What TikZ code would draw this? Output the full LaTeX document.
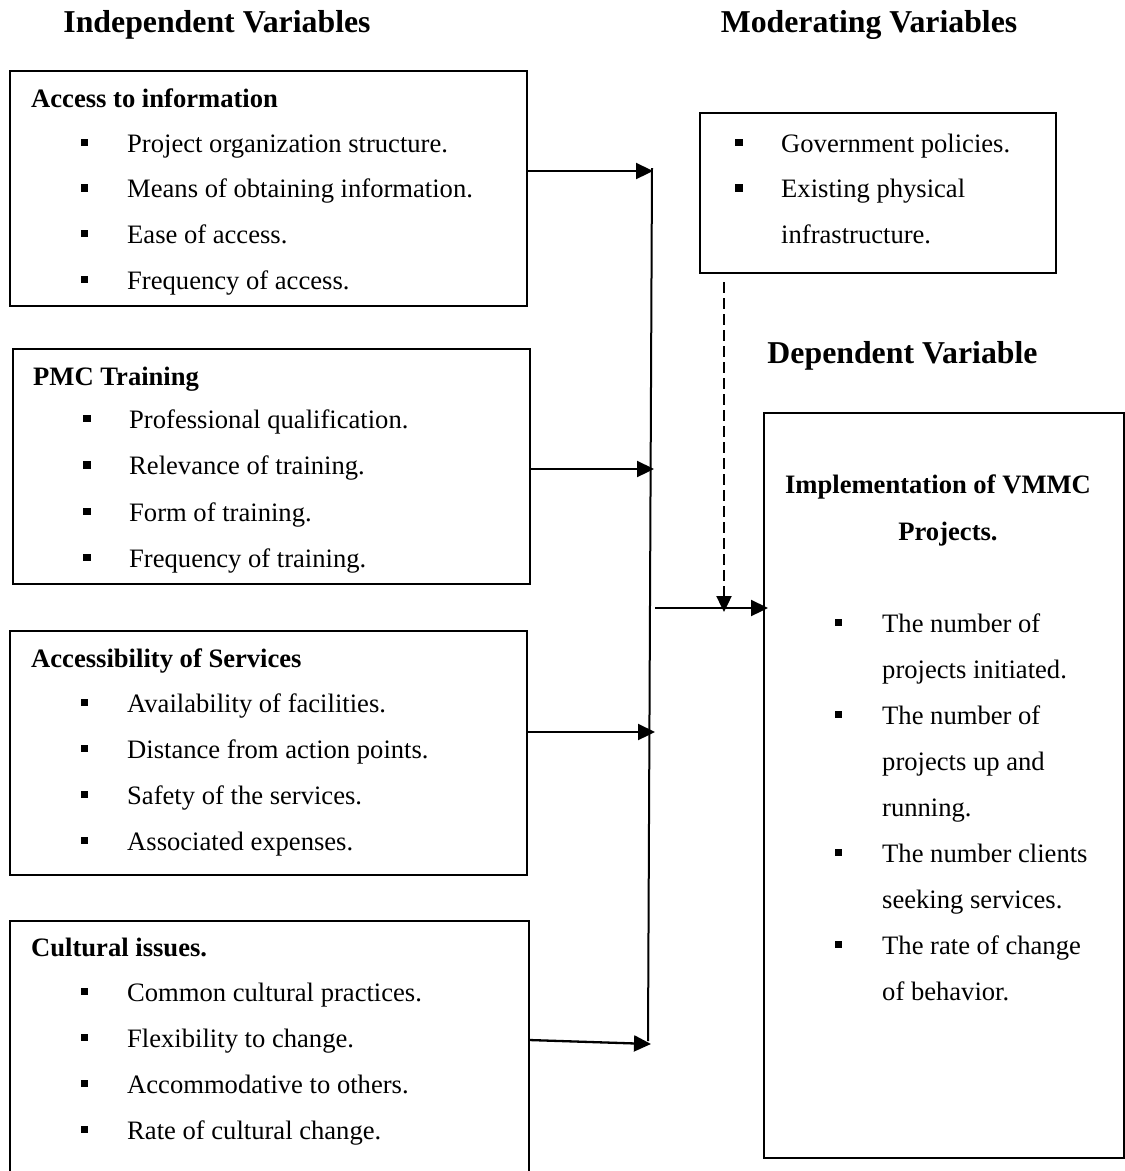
\documentclass[tikz,border=0pt]{standalone}
\usepackage{fontspec}
\setmainfont{Liberation Serif}
\usetikzlibrary{arrows.meta}
\newcommand{\bitm}[5]{\node[bul] (#1b) at (#2,#4-9.5) {}; \node[txt] (#1) at (#3,#4) {#5};}
\begin{document}
\begin{tikzpicture}[x=1pt,y=-1pt,
 box/.style={draw, line width=1.8pt, anchor=north west, inner sep=0, outer sep=0},
 txt/.style={anchor=base west, inner sep=0, font=\fontsize{26.6pt}{30pt}\selectfont},
 ttl/.style={txt, font=\fontsize{26.6pt}{30pt}\selectfont\bfseries},
 ctl/.style={anchor=base, inner sep=0, font=\fontsize{26.6pt}{30pt}\selectfont\bfseries},
 head/.style={anchor=base, inner sep=0, font=\fontsize{31.8pt}{36pt}\selectfont\bfseries},
 bul/.style={fill, minimum size=7.5pt, inner sep=0},
 arr/.style={line width=2.3pt, -{Triangle[length=17pt,width=16pt]}},
 bus/.style={line width=2pt},
 dsh/.style={line width=2.4pt, dash pattern=on 11pt off 5pt, -{Triangle[length=16pt,width=15pt]}}]
\useasboundingbox (0,0) rectangle (1125,1171);
\fill[white] (0,0) rectangle (1125,1171);

% headings
\node[head] (hind) at (217,32) {Independent Variables};
\node[head] (hmod) at (869,32) {Moderating Variables};
\node[head] (hdep) at (902.5,363) {Dependent Variable};

% box 1
\node[box, minimum width=517pt, minimum height=235pt] (b1) at (10,71) {};
\node[ttl] (t1) at (31,107) {Access to information};
\bitm{i11}{84.5}{127}{152}{Project organization structure.}
\bitm{i12}{84.5}{127}{197.5}{Means of obtaining information.}
\bitm{i13}{84.5}{127}{243}{Ease of access.}
\bitm{i14}{84.5}{127}{289}{Frequency of access.}

% box 2
\node[box, minimum width=517pt, minimum height=235pt] (b2) at (13,349) {};
\node[ttl] (t2) at (33,385) {PMC Training};
\bitm{i21}{87}{129}{428}{Professional qualification.}
\bitm{i22}{87}{129}{474.5}{Relevance of training.}
\bitm{i23}{87}{129}{521}{Form of training.}
\bitm{i24}{87}{129}{567}{Frequency of training.}

% box 3
\node[box, minimum width=517pt, minimum height=244pt] (b3) at (10,631) {};
\node[ttl] (t3) at (31,667) {Accessibility of Services};
\bitm{i31}{84.5}{127}{712}{Availability of facilities.}
\bitm{i32}{84.5}{127}{758}{Distance from action points.}
\bitm{i33}{84.5}{127}{804}{Safety of the services.}
\bitm{i34}{84.5}{127}{850}{Associated expenses.}

% box 4 (runs off the bottom)
\begin{scope}
\clip (0,0) rectangle (1125,1171);
\node[box, minimum width=519pt, minimum height=300pt] (b4) at (10,921) {};
\end{scope}
\node[ttl] (t4) at (31,956) {Cultural issues.};
\bitm{i41}{84.5}{127}{1001}{Common cultural practices.}
\bitm{i42}{84.5}{127}{1047}{Flexibility to change.}
\bitm{i43}{84.5}{127}{1093}{Accommodative to others.}
\bitm{i44}{84.5}{127}{1139}{Rate of cultural change.}

% moderating box
\node[box, minimum width=356pt, minimum height=160pt] (mod) at (700,113) {};
\bitm{m1}{739}{781}{152}{Government policies.}
\bitm{m2}{739}{781}{197.5}{Existing physical}
\node[txt] (m3) at (781,243) {infrastructure.};

% dependent box
\node[box, minimum width=360pt, minimum height=745pt] (rb) at (764,413) {};
\node[ctl] (r1) at (938,493) {Implementation of VMMC};
\node[ctl] (r2) at (948,540) {Projects.};
\bitm{d1}{838.5}{882}{632}{The number of}
\node[txt] (d1c) at (882,678) {projects initiated.};
\bitm{d2}{838.5}{882}{724}{The number of}
\node[txt] (d2c) at (882,770) {projects up and};
\node[txt] (d2d) at (882,816) {running.};
\bitm{d3}{838.5}{882}{862}{The number clients}
\node[txt] (d3c) at (882,908) {seeking services.};
\bitm{d4}{838.5}{882}{954}{The rate of change}
\node[txt] (d4c) at (882,1000) {of behavior.};

% connectors
\coordinate (bt) at (652,168);
\coordinate (bb) at (648,1041);
\draw[bus] (bt) -- (bb);

\coordinate (a1) at (653,171);
\coordinate (a2) at (654,469);
\coordinate (a3) at (655,732);
\coordinate (a4) at (651,1044);
\coordinate (h4) at (0,1040);
\draw[arr] (b1.east |- a1) -- (a1);
\draw[arr] (b2.east |- a2) -- (a2);
\draw[arr] (b3.east |- a3) -- (a3);
\draw[arr] (b4.east |- h4) -- (a4);

\coordinate (j) at (655,608);
\coordinate (je) at (768,608);
\draw[arr] (j) -- (je);

\coordinate (dtop) at (724,282);
\coordinate (dbot) at (724,612);
\draw[dsh] (dtop) -- (dbot);
\end{tikzpicture}
\end{document}
